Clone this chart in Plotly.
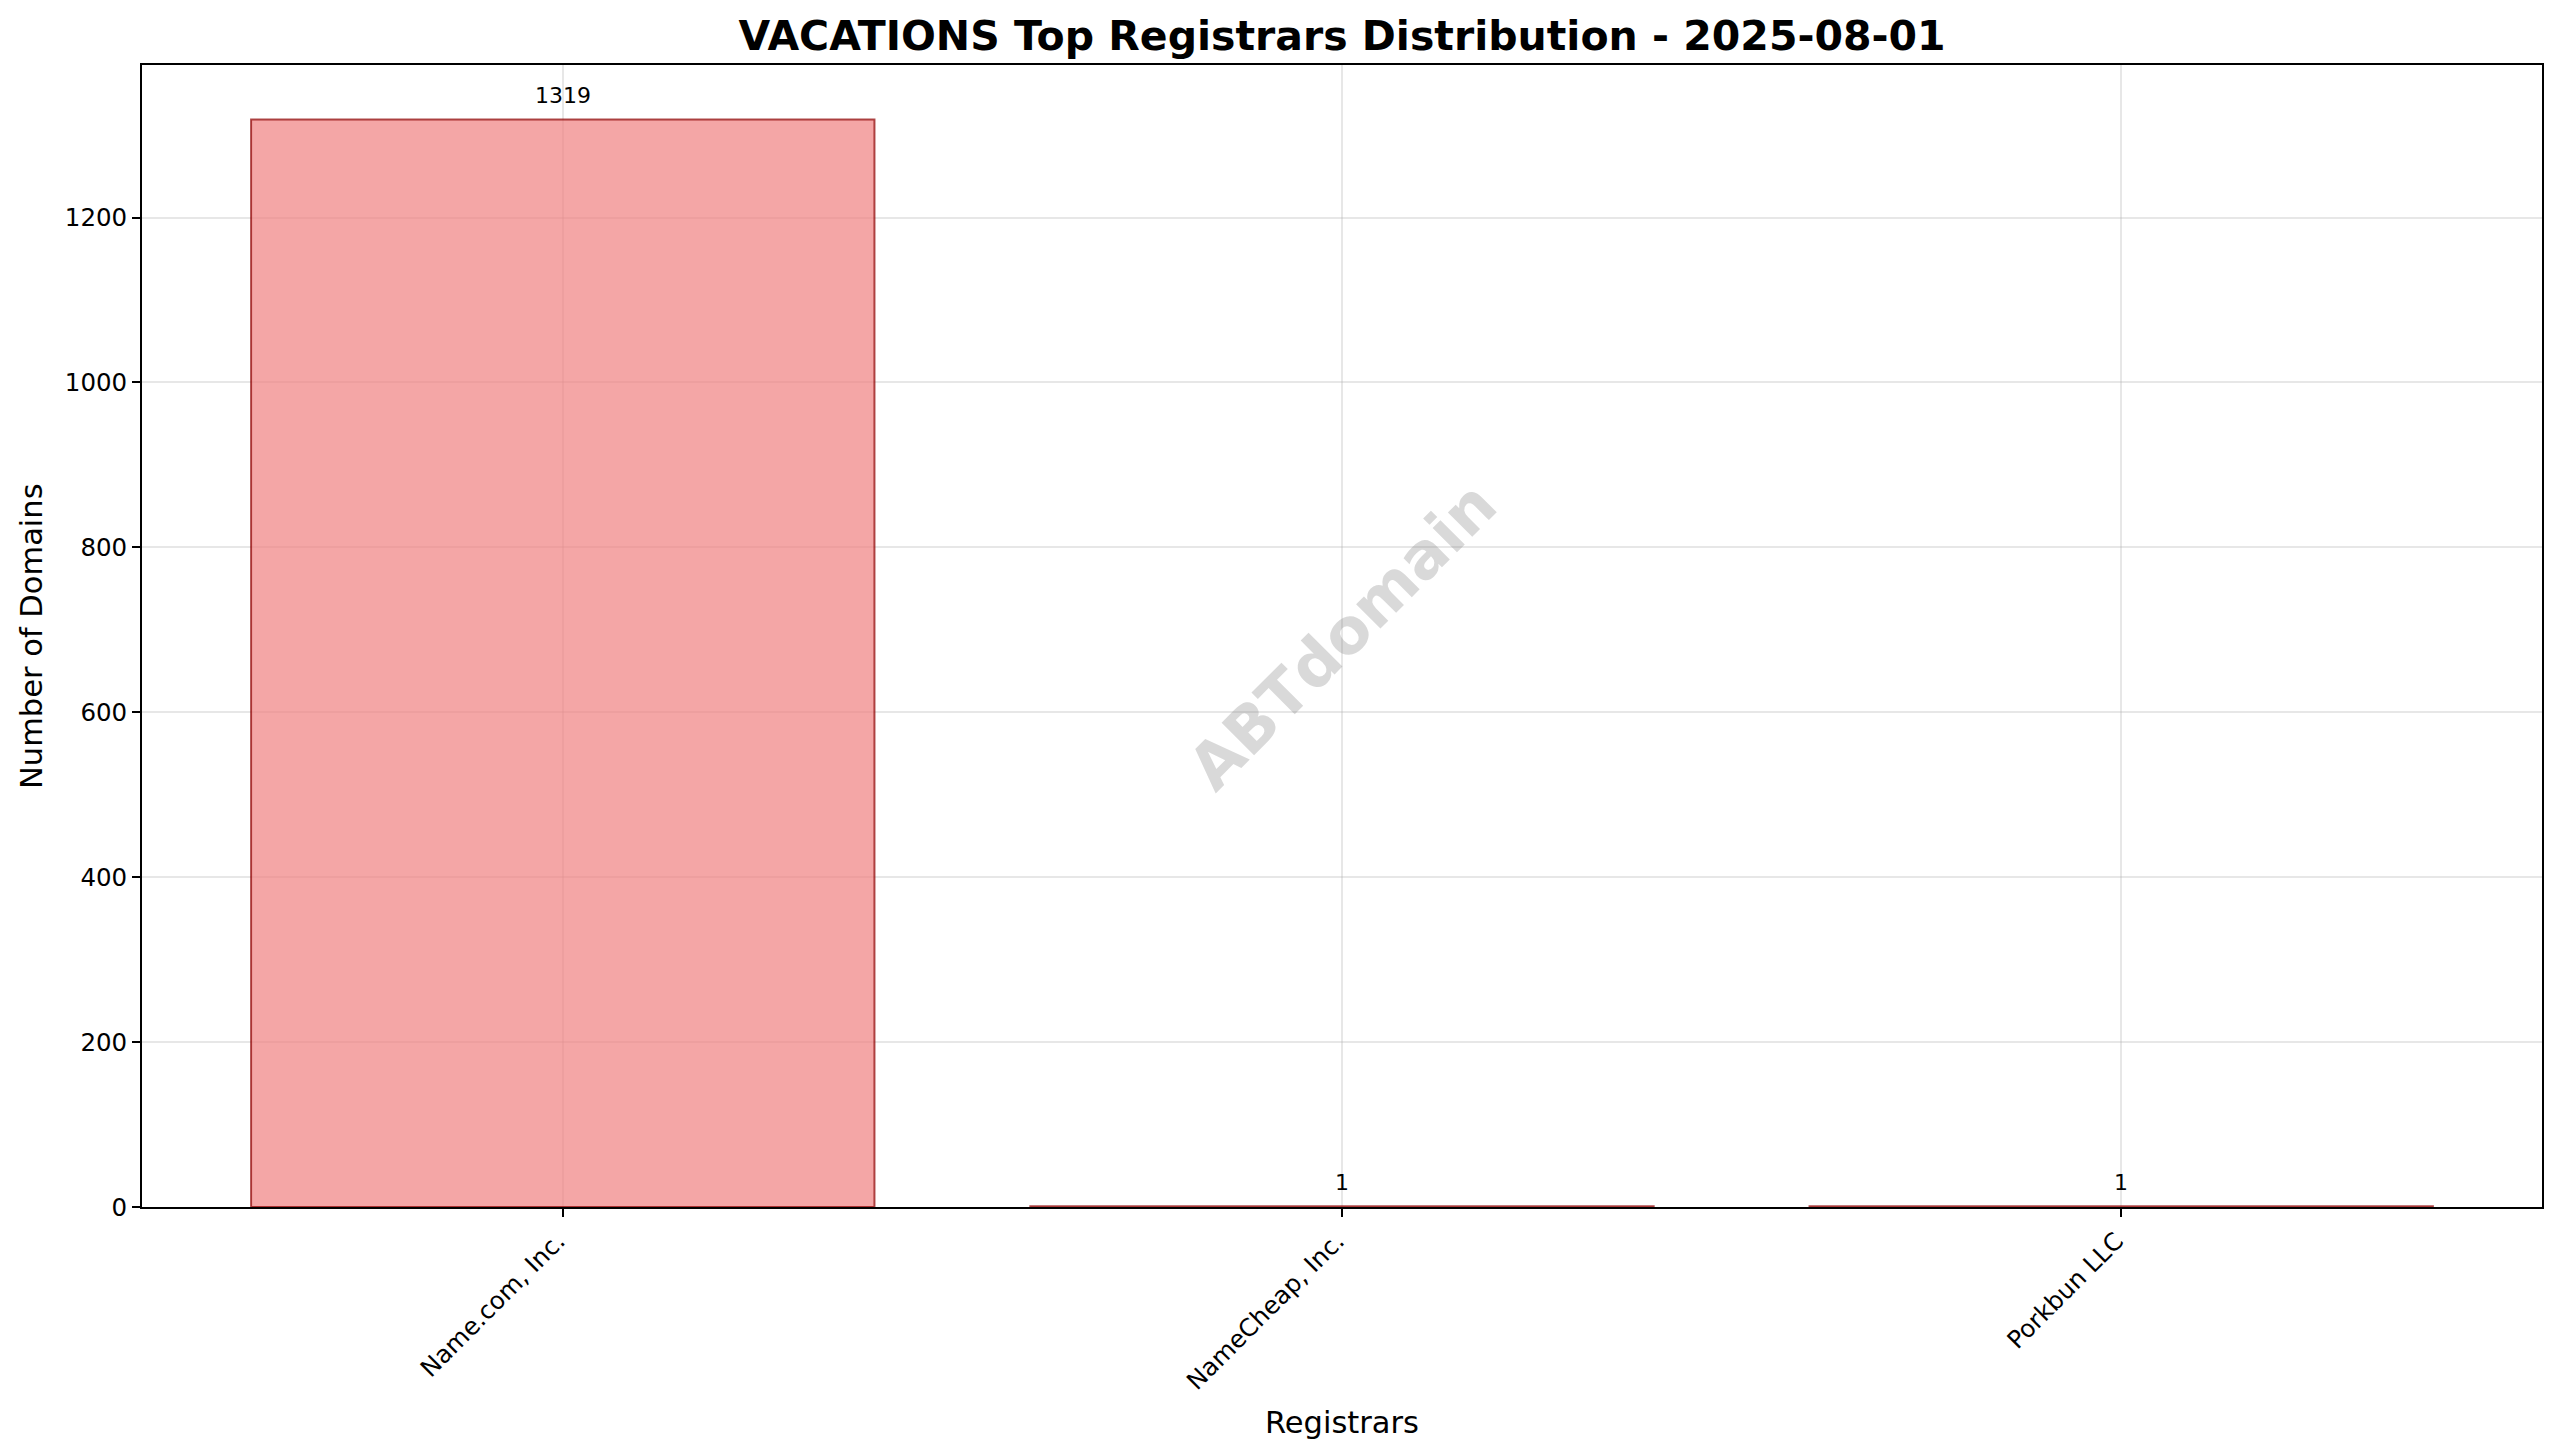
import plotly.graph_objects as go

# data
registrars = ["Name.com, Inc.", "NameCheap, Inc.", "Porkbun LLC"]
domain_counts = [1319, 1, 1]
y_ticks = [0, 200, 400, 600, 800, 1000, 1200]

title = "VACATIONS Top Registrars Distribution - 2025-08-01"
FONT = "DejaVu Sans"
# the page body adds 8px around the figure, so size/margins are trimmed by that
W, H = 2552, 1448
M = dict(l=134, r=18, t=57, b=249)

fig = go.Figure()
fig.add_trace(go.Bar(
    x=registrars,
    y=domain_counts,
    width=0.8,
    marker=dict(color="rgba(240,128,128,0.7)",
                line=dict(color="rgba(139,0,0,0.7)", width=2)),
    showlegend=False,
    hoverinfo="x+y",
))

# value labels above each bar
annotations = []
for name, cnt in zip(registrars, domain_counts):
    annotations.append(dict(
        x=name, y=cnt, xref="x", yref="y", text=str(cnt),
        showarrow=False, yanchor="bottom", yshift=9,
        font=dict(family=FONT, size=22, color="black"),
    ))

# axis titles
annotations.append(dict(
    x=0.5, y=0, xref="paper", yref="paper", text="Registrars",
    showarrow=False, yanchor="middle", yshift=-215,
    font=dict(family=FONT, size=30.5, color="black"),
))
annotations.append(dict(
    x=0, y=0.5, xref="paper", yref="paper", text="Number of Domains",
    showarrow=False, xanchor="center", textangle=-90, xshift=-111,
    font=dict(family=FONT, size=30.5, color="black"),
))

# watermark
annotations.append(dict(
    x=0.5, y=0.5, xref="paper", yref="paper", text="<b>ABTdomain</b>",
    showarrow=False, textangle=-45,
    font=dict(family=FONT, size=63, color="rgba(128,128,128,0.3)"),
))

axis_common = dict(
    showline=True, linecolor="black", linewidth=1.8, mirror=True,
    ticks="outside", ticklen=8, tickwidth=1.8, tickcolor="black",
    showgrid=True, gridcolor="rgba(176,176,176,0.3)", gridwidth=1.8,
    zeroline=False,
    tickfont=dict(family=FONT, size=24.5, color="black"),
)

fig.update_layout(
    width=W, height=H,
    margin=M,
    paper_bgcolor="white",
    plot_bgcolor="white",
    title=dict(
        text=f"<b>{title}</b>",
        x=0.5, xref="paper", xanchor="center",
        y=1 - 28 / H, yref="container", yanchor="middle",
        font=dict(family=FONT, size=41, color="black"),
    ),
    xaxis=dict(axis_common, range=[-0.54, 2.54], tickangle=-45,
               ticklabelshift=-5),
    yaxis=dict(axis_common, range=[0, 1385], tickmode="array",
               tickvals=y_ticks, ticktext=[str(v) for v in y_ticks]),
    annotations=annotations,
    bargap=0.2,
)

fig.write_html("out.html")
